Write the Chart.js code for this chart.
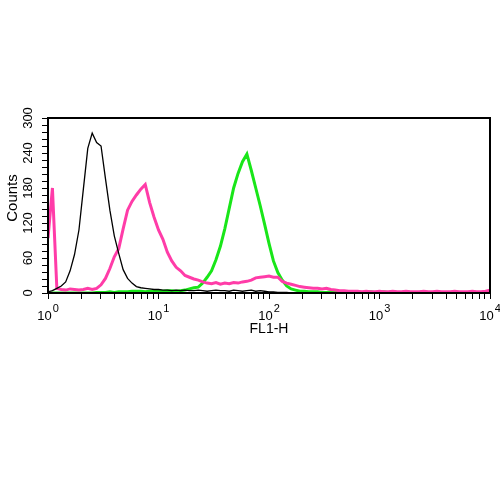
<!DOCTYPE html>
<html>
<head>
<meta charset="utf-8">
<script src="https://cdn.jsdelivr.net/npm/chart.js@4"></script>
<style>
body { margin: 0; background: #fff; }
</style>
</head>
<body>
<canvas id="mycanvas" width="500" height="500"></canvas>
<script>
// histogram channels: 25 bins per decade, 10^0 .. 10^4
var binsPerDecade = 25;

var black = [
	2, 4, 8, 12, 19, 38, 66, 108, 178, 248,
	274, 258, 252, 196, 142, 98, 68, 40, 25, 17,
	11, 9, 8, 7, 6, 6, 5, 5, 4, 5,
	4, 5, 4, 4, 5, 4, 3, 4, 5, 4,
	4, 3, 5, 4, 3, 4, 5, 3, 4, 3,
	2, 2, 1, 1, 1, 0, 0, 0, 0, 0,
	0, 0, 0, 0, 0, 0, 0, 0, 0, 0,
	0, 0, 0, 0, 0, 0, 0, 0, 0, 0,
	0, 0, 0, 0, 0, 0, 0, 0, 0, 0,
	0, 0, 0, 0, 0, 0, 0, 0, 0, 0,
	0
];

var pink = [
	94, 180, 8, 6, 5, 7, 6, 5, 6, 8,
	6, 8, 14, 25, 42, 62, 76, 110, 142, 157,
	168, 178, 186, 155, 130, 108, 92, 70, 55, 44,
	38, 30, 27, 24, 22, 19, 17, 16, 18, 15,
	17, 16, 18, 17, 19, 20, 22, 26, 27, 28,
	29, 27, 27, 20, 17, 15, 13, 11, 10, 9,
	8, 8, 7, 8, 6, 5, 4, 4, 3, 3,
	3, 2, 3, 2, 2, 3, 2, 2, 3, 2,
	2, 3, 2, 2, 2, 3, 2, 2, 3, 2,
	2, 2, 3, 2, 2, 2, 3, 2, 2, 3,
	5
];

var green = [
	0, 0, 0, 0, 0, 0, 0, 0, 0, 0,
	0, 1, 1, 1, 2, 1, 2, 2, 2, 3,
	3, 3, 2, 3, 3, 4, 3, 4, 4, 3,
	4, 5, 7, 9, 10, 17, 27, 38, 57, 80,
	110, 145, 180, 205, 225, 238, 210, 180, 150, 118,
	85, 55, 35, 22, 12, 7, 5, 3, 3, 2,
	2, 2, 1, 1, 2, 1, 1, 2, 1, 1,
	2, 1, 1, 2, 1, 1, 2, 1, 2, 1,
	1, 2, 1, 1, 1, 2, 1, 1, 1, 1,
	1, 0, 0, 0, 0, 0, 0, 0, 0, 0,
	0
];

var yTicks = [0, 60, 120, 180, 240, 300];
var xDecades = [0, 1, 2, 3, 4];

var channels = [];
for (var i = 0; i < black.length; i++) {
	channels.push(Math.pow(10, i / binsPerDecade));
}

function toPoints(values) {
	var pts = [];
	for (var i = 0; i < values.length; i++) {
		pts.push({x: channels[i], y: values[i]});
	}
	return pts;
}

var FONT = '"Liberation Sans", Arial, sans-serif';

var labelsPlugin = {
	id: 'facsLabels',
	afterDraw: function(chart) {
		var ctx = chart.ctx;
		var area = chart.chartArea;
		var xs = chart.scales.x;
		var ys = chart.scales.y;
		ctx.save();
		ctx.strokeStyle = '#000';
		ctx.lineWidth = 2;
		ctx.strokeRect(area.left, area.top, area.right - area.left, area.bottom - area.top);

		ctx.fillStyle = '#000';
		ctx.textAlign = 'left';
		ctx.textBaseline = 'alphabetic';
		xDecades.forEach(function(n) {
			var px = xs.getPixelForValue(Math.pow(10, n));
			ctx.font = '13px ' + FONT;
			var w1 = ctx.measureText('10').width;
			ctx.font = '11px ' + FONT;
			var w2 = ctx.measureText(String(n)).width;
			var sx = px - (w1 + w2 + 1) / 2;
			ctx.font = '13px ' + FONT;
			ctx.fillText('10', sx, 320);
			ctx.font = '11px ' + FONT;
			ctx.fillText(String(n), sx + w1 + 1, 312);
		});

		ctx.font = '14px ' + FONT;
		ctx.textAlign = 'center';
		ctx.fillText('FL1-H', (area.left + area.right) / 2, 333);

		yTicks.forEach(function(v) {
			var py = ys.getPixelForValue(v);
			ctx.save();
			ctx.translate(28, py);
			ctx.rotate(-Math.PI / 2);
			ctx.textAlign = 'center';
			ctx.textBaseline = 'middle';
			ctx.font = '13px ' + FONT;
			ctx.fillText(String(v), 0, 0);
			ctx.restore();
		});

		ctx.save();
		ctx.translate(13, 198);
		ctx.rotate(-Math.PI / 2);
		ctx.textAlign = 'center';
		ctx.textBaseline = 'middle';
		ctx.font = '15px ' + FONT;
		ctx.fillText('Counts', 0, 0);
		ctx.restore();

		ctx.restore();
	}
};

var ctx = document.getElementById('mycanvas');

var chart = new Chart(ctx, {
	type: 'line',
	data: {
		datasets: [
			{
				label: 'isotype',
				data: toPoints(black),
				borderColor: '#000000',
				borderWidth: 1.3,
				pointRadius: 0,
				fill: false
			},
			{
				label: 'sample 1',
				data: toPoints(pink),
				borderColor: '#ff3ca8',
				borderWidth: 3,
				pointRadius: 0,
				fill: false
			},
			{
				label: 'sample 2',
				data: toPoints(green),
				borderColor: '#19e619',
				borderWidth: 3,
				pointRadius: 0,
				fill: false
			}
		]
	},
	options: {
		responsive: false,
		animation: false,
		layout: {padding: {left: 0, top: 118, right: 10, bottom: 0}},
		plugins: {
			legend: {display: false},
			tooltip: {enabled: false}
		},
		scales: {
			x: {
				type: 'logarithmic',
				min: 1,
				max: 10000,
				afterFit: function(scale) { scale.height = 207; },
				afterBuildTicks: function(scale) {
					scale.ticks = scale.ticks.filter(function(t) {
						var m = t.value / Math.pow(10, Math.floor(Math.log10(t.value) + 1e-9));
						return Math.abs(m - Math.round(m)) < 1e-6;
					});
				},
				grid: {display: true, drawOnChartArea: false, drawTicks: true, tickLength: 6, color: '#000', lineWidth: 1},
				border: {display: true, color: '#000', width: 2},
				ticks: {autoSkip: false, maxRotation: 0, callback: function() { return ''; }}
			},
			y: {
				min: 0,
				max: 300,
				afterFit: function(scale) { scale.width = 48; },
				grid: {display: true, drawOnChartArea: false, drawTicks: true, tickLength: 6, color: '#000', lineWidth: 1},
				border: {display: true, color: '#000', width: 2},
				ticks: {stepSize: 12, autoSkip: false, callback: function() { return ''; }}
			}
		}
	},
	plugins: [labelsPlugin]
});
</script>
</body>
</html>
